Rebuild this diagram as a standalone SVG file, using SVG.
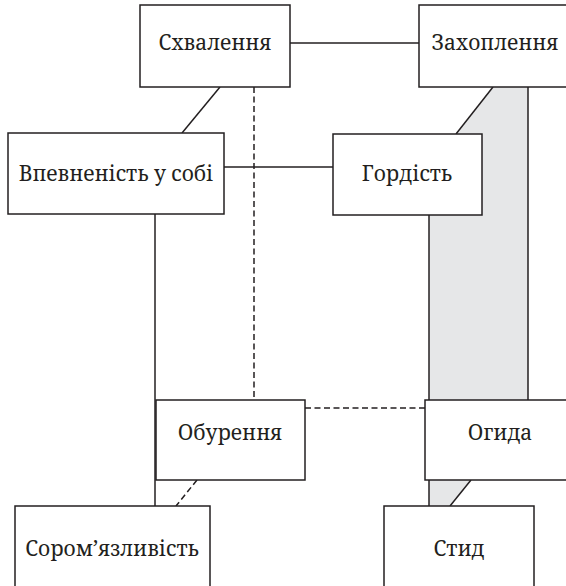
<svg xmlns="http://www.w3.org/2000/svg" width="566" height="586" viewBox="0 0 566 586">
<style>
.box{fill:#fff;stroke:#231f20;stroke-width:1.5}
.ln{stroke:#231f20;stroke-width:1.5;fill:none}
.ds{stroke:#231f20;stroke-width:1.5;fill:none;stroke-dasharray:6 3.5}
text{font-family:"Noto Serif","DejaVu Serif",serif;font-size:21px;fill:#231f20;text-anchor:middle}
</style>
<rect width="566" height="586" fill="#fff"/>
<g id="connectors">
<polygon points="493,87 528,87 528,480 471,480 450,506 429,506 429,215 456,134" fill="#e6e7e8"/>
<line class="ln" x1="290" y1="43" x2="419" y2="43"/>
<line class="ln" x1="220" y1="87" x2="182" y2="133"/>
<line class="ds" x1="254" y1="87" x2="254" y2="400"/>
<line class="ln" x1="224" y1="167" x2="333" y2="167"/>
<line class="ln" x1="493" y1="87" x2="456" y2="134"/>
<line class="ln" x1="528" y1="87" x2="528" y2="400"/>
<line class="ln" x1="429" y1="215" x2="429" y2="506"/>
<line class="ln" x1="471" y1="480" x2="450" y2="506"/>
<line class="ln" x1="155" y1="214" x2="155" y2="506"/>
<line class="ds" x1="305" y1="408" x2="425" y2="408"/>
<line class="ds" x1="197" y1="480" x2="176" y2="506"/>
</g>
<g id="shvalennia"><rect class="box" x="140" y="5" width="150" height="82"/><text x="215" y="50">Схвалення</text></g>
<g id="zakhoplennia"><rect class="box" x="419" y="5" width="152" height="82"/><text x="495" y="50">Захоплення</text></g>
<g id="vpevnenist"><rect class="box" x="8" y="133" width="216" height="81"/><text x="116" y="181">Впевненість у собі</text></g>
<g id="hordist"><rect class="box" x="333" y="134" width="149" height="81"/><text x="407" y="181">Гордість</text></g>
<g id="oburennia"><rect class="box" x="156" y="400" width="149" height="80"/><text x="230" y="440">Обурення</text></g>
<g id="ohyda"><rect class="box" x="425" y="400" width="150" height="80"/><text x="500" y="440">Огида</text></g>
<g id="soromiazlyvist"><rect class="box" x="15" y="506" width="195" height="84"/><text x="112" y="556">Сором’язливість</text></g>
<g id="styd"><rect class="box" x="384" y="506" width="150" height="84"/><text x="459" y="556">Стид</text></g>
</svg>
